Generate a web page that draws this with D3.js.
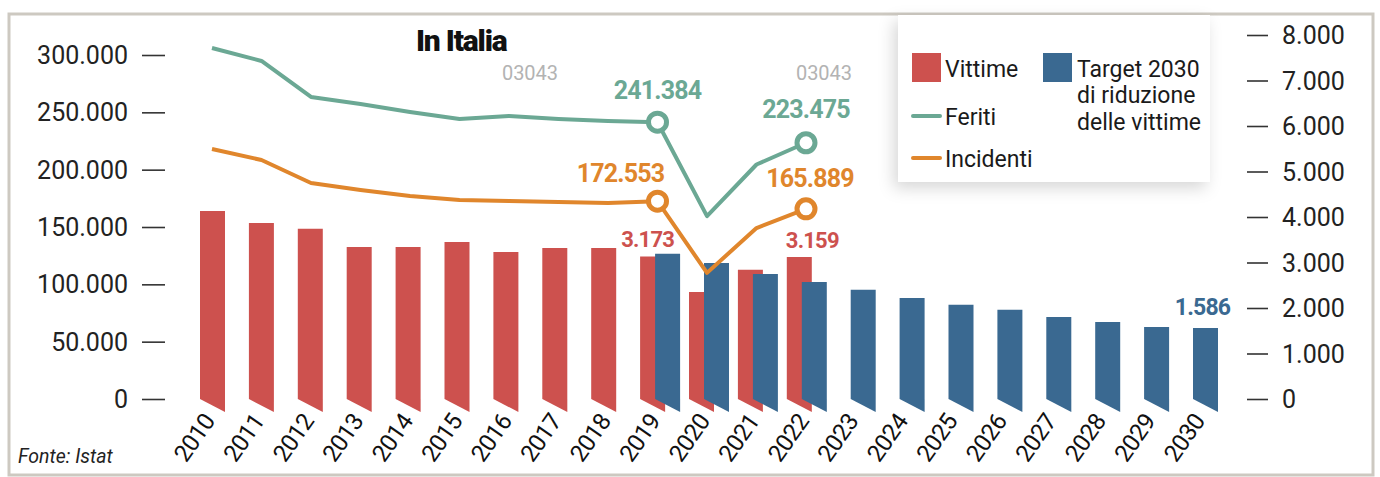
<!DOCTYPE html>
<html>
<head>
<meta charset="utf-8">
<script src="https://cdn.jsdelivr.net/npm/d3@7"></script>
<style>
  body { margin: 0; background: #fff; }
  svg { display: block; font-family: Roboto, "Liberation Sans", sans-serif; }
</style>
</head>
<body>
<svg id="chart" width="1380" height="477"></svg>
<script>
// Data
const years = [2010, 2011, 2012, 2013, 2014, 2015, 2016, 2017, 2018, 2019,
               2020, 2021, 2022, 2023, 2024, 2025, 2026, 2027, 2028, 2029, 2030];

const vittimeYears = [2010, 2011, 2012, 2013, 2014, 2015, 2016, 2017, 2018, 2019, 2020, 2021, 2022];
const vittime      = [4130, 3870, 3740, 3340, 3340, 3450, 3230, 3320, 3320, 3130, 2350, 2840, 3120];

const targetYears = [2019, 2020, 2021, 2022, 2023, 2024, 2025, 2026, 2027, 2028, 2029, 2030];
const target      = [3190, 2990, 2750, 2570, 2400, 2220, 2070, 1960, 1800, 1690, 1580, 1560];

const lineYears = [2010, 2011, 2012, 2013, 2014, 2015, 2016, 2017, 2018, 2019, 2020, 2021, 2022];
const feriti    = [306100, 294800, 263400, 257300, 250300, 244200, 246800, 244200, 242400, 241384, 159500, 204500, 223475];
const incidenti = [218000, 208400, 188400, 182300, 177000, 173500, 172700, 171800, 170900, 172553, 110000, 149100, 165889];

const leftTicks  = [0, 50000, 100000, 150000, 200000, 250000, 300000];
const rightTicks = [0, 1000, 2000, 3000, 4000, 5000, 6000, 7000, 8000];

const markerYears = [2019, 2022];

// Callout labels
const feritiLabels    = [{ year: 2019, text: "241.384" }, { year: 2022, text: "223.475" }];
const incidentiLabels = [{ year: 2019, text: "172.553" }, { year: 2022, text: "165.889" }];
const vittimeLabels   = [{ year: 2019, text: "3.173" }, { year: 2022, text: "3.159" }];
const targetLabels    = [{ year: 2030, text: "1.586" }];

const colors = {
  vittime: "#cd514e",
  target: "#3a6991",
  feriti: "#6ba894",
  incidenti: "#e0862c"
};

const svg = d3.select("#chart");
const it = d3.formatLocale({ decimal: ",", thousands: ".", grouping: [3], currency: ["€", ""] });
const fmt = it.format(",d");

// Frame
svg.append("rect")
  .attr("x", 9).attr("y", 14).attr("width", 1364).attr("height", 461)
  .attr("fill", "none").attr("stroke", "#cdc9c1").attr("stroke-width", 3);

// Scales
const barW = 25, blueShift = 15;
const xBar = d3.scaleBand().domain(years).range([200, 200 + years.length * 48.9]).paddingInner(0);
const xLine = d3.scalePoint().domain(years).range([212, 1202]);
const yLeft = d3.scaleLinear().domain([0, 300000]).range([399, 55]);
const yRight = d3.scaleLinear().domain([0, 8000]).range([399, 35]);

// Axes
const leftAxis = svg.append("g")
  .attr("transform", "translate(165,0)")
  .call(d3.axisLeft(yLeft).tickValues(leftTicks).tickSize(23).tickPadding(14).tickFormat(fmt));
const rightAxis = svg.append("g")
  .attr("transform", "translate(1247,0)")
  .call(d3.axisRight(yRight).tickValues(rightTicks).tickSize(21).tickPadding(14).tickFormat(fmt));
[leftAxis, rightAxis].forEach(ax => {
  ax.select(".domain").remove();
  ax.selectAll("line").attr("stroke", "#333").attr("stroke-width", 1.6);
  ax.selectAll("text").attr("fill", "#222").style("font-size", "25px")
    .style("font-family", "Roboto, sans-serif").attr("dy", "0.34em");
});

// Bars with a slanted foot
const slant = 13;
const barPath = (x, v) => {
  const top = yRight(v), y0 = yRight(0);
  return `M${x},${top}H${x + barW}V${y0 + slant}L${x},${y0}Z`;
};

svg.append("g").selectAll("path")
  .data(vittimeYears.map((y, i) => ({ year: y, value: vittime[i] })))
  .join("path")
  .attr("d", d => barPath(xBar(d.year), d.value))
  .attr("fill", colors.vittime);

svg.append("g").selectAll("path")
  .data(targetYears.map((y, i) => ({ year: y, value: target[i] })))
  .join("path")
  .attr("d", d => barPath(xBar(d.year) + blueShift, d.value))
  .attr("fill", colors.target);

// Year labels
svg.append("g").selectAll("text")
  .data(years)
  .join("text")
  .attr("transform", d => `translate(${xLine(d) + 4},${421}) rotate(-55)`)
  .attr("text-anchor", "end")
  .attr("fill", "#111")
  .style("font-size", "24px")
  .style("letter-spacing", "-0.5px")
  .text(d => d);

// Lines
const lineGen = d3.line().x(d => xLine(d.year)).y(d => yLeft(d.value));
[["feriti", feriti], ["incidenti", incidenti]].forEach(([key, vals]) => {
  const pts = lineYears.map((y, i) => ({ year: y, value: vals[i] }));
  svg.append("path")
    .datum(pts)
    .attr("d", lineGen)
    .attr("fill", "none")
    .attr("stroke", colors[key])
    .attr("stroke-width", 4)
    .attr("stroke-linejoin", "round");
  svg.append("g").selectAll("circle")
    .data(pts.filter(p => markerYears.includes(p.year)))
    .join("circle")
    .attr("cx", d => xLine(d.year))
    .attr("cy", d => yLeft(d.value))
    .attr("r", 9)
    .attr("fill", "#fff")
    .attr("stroke", colors[key])
    .attr("stroke-width", 5);
});

// Callouts
const callout = (labels, color, size, xf, yf, dx, dy) => {
  svg.append("g").selectAll("text")
    .data(labels)
    .join("text")
    .attr("x", (d, i) => xf(d) + dx[i])
    .attr("y", (d, i) => yf(d) + dy[i])
    .attr("text-anchor", "middle")
    .attr("fill", color)
    .style("font-size", size + "px")
    .style("font-weight", 700)
    .style("letter-spacing", "-0.8px")
    .text(d => d.text);
};
const ferVal = y => feriti[lineYears.indexOf(y)];
const incVal = y => incidenti[lineYears.indexOf(y)];
callout(feritiLabels, colors.feriti, 25, d => xLine(d.year), d => yLeft(ferVal(d.year)), [0, 0], [-23, -25]);
callout(incidentiLabels, colors.incidenti, 25, d => xLine(d.year), d => yLeft(incVal(d.year)), [-37, 4], [-19, -22]);
callout(vittimeLabels, colors.vittime, 22, d => xBar(d.year) + barW / 2,
  d => yRight(vittime[vittimeYears.indexOf(d.year)]), [-5, 13], [-10, -9]);
callout(targetLabels, colors.target, 23, d => xBar(d.year) + blueShift + barW / 2,
  d => yRight(target[targetYears.indexOf(d.year)]), [-3], [-13]);

// Grey placeholder codes
svg.append("g").selectAll("text")
  .data([{ x: 530 }, { x: 824 }])
  .join("text")
  .attr("x", d => d.x).attr("y", 80)
  .attr("text-anchor", "middle")
  .attr("fill", "#b3b3b3")
  .style("font-size", "20px")
  .text("03043");

// Title
svg.append("text")
  .attr("x", 416).attr("y", 51)
  .attr("fill", "#111")
  .style("font-size", "30px")
  .style("font-weight", 900)
  .style("letter-spacing", "-1.2px")
  .text("In Italia");

// Source
svg.append("text")
  .attr("x", 18).attr("y", 463)
  .attr("fill", "#222")
  .style("font-size", "19.5px")
  .style("font-style", "italic")
  .text("Fonte: Istat");

// Legend
const defs = svg.append("defs");
defs.append("filter").attr("id", "shadow").attr("x", "-20%").attr("y", "-20%").attr("width", "140%").attr("height", "150%")
  .append("feDropShadow")
  .attr("dx", -4).attr("dy", 6).attr("stdDeviation", 8)
  .attr("flood-color", "#000").attr("flood-opacity", 0.16);

const legend = svg.append("g");
legend.append("rect")
  .attr("x", 898).attr("y", 15).attr("width", 312).attr("height", 167)
  .attr("fill", "#fff").attr("filter", "url(#shadow)");

legend.append("rect").attr("x", 912).attr("y", 53).attr("width", 29).attr("height", 29).attr("fill", colors.vittime);
legend.append("rect").attr("x", 1043).attr("y", 53).attr("width", 29).attr("height", 29).attr("fill", colors.target);
legend.append("line").attr("x1", 913).attr("x2", 940).attr("y1", 116).attr("y2", 116)
  .attr("stroke", colors.feriti).attr("stroke-width", 4).attr("stroke-linecap", "round");
legend.append("line").attr("x1", 913).attr("x2", 940).attr("y1", 158).attr("y2", 158)
  .attr("stroke", colors.incidenti).attr("stroke-width", 4).attr("stroke-linecap", "round");

const legText = [
  { x: 945, y: 77, t: "Vittime" },
  { x: 945, y: 125, t: "Feriti" },
  { x: 945, y: 167, t: "Incidenti" },
  { x: 1077, y: 77, t: "Target 2030" },
  { x: 1077, y: 103, t: "di riduzione" },
  { x: 1077, y: 130, t: "delle vittime" }
];
legend.selectAll("text.leg")
  .data(legText)
  .join("text")
  .attr("class", "leg")
  .attr("x", d => d.x).attr("y", d => d.y)
  .attr("fill", "#1a1a1a")
  .style("font-size", "23px")
  .text(d => d.t);
</script>
</body>
</html>
